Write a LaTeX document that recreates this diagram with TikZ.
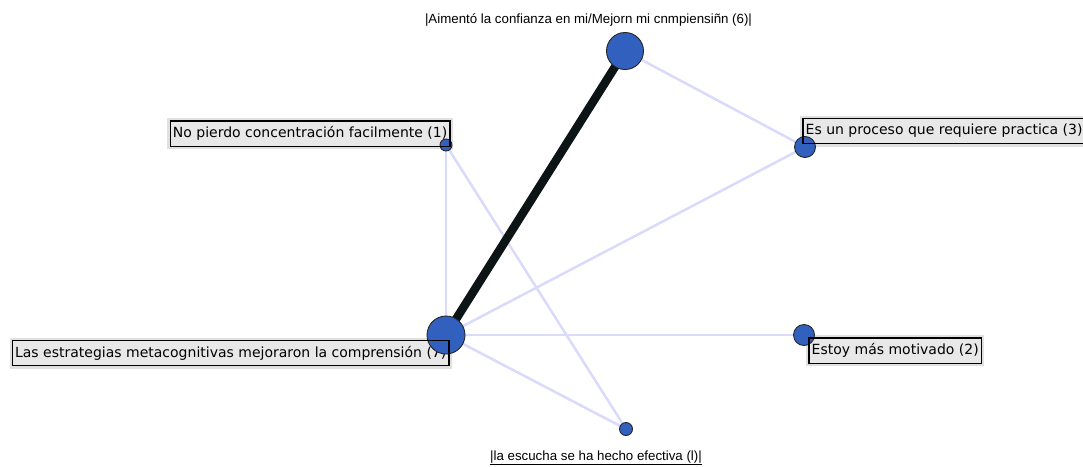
\documentclass[tikz,border=0pt]{standalone}
\usepackage{fontspec}
\setmainfont{DejaVu Sans}
\newfontfamily\arialf{Liberation Sans}
\pgfdeclarelayer{edges}
\pgfdeclarelayer{labels}
\pgfdeclarelayer{front}
\pgfsetlayers{edges,labels,main,front}
\definecolor{nodeblue}{RGB}{50,96,190}
\definecolor{edgelav}{RGB}{218,218,252}
\definecolor{boxfill}{RGB}{232,232,232}
\definecolor{halo}{RGB}{224,224,224}
\definecolor{strongcol}{RGB}{12,20,22}
\tikzset{
  vertex/.style={circle, fill=nodeblue, draw=black!85, line width=0.9pt, inner sep=0pt},
  weak/.style={draw=edgelav, line width=2.5pt},
  strong/.style={draw=strongcol, line width=8.5pt},
  tag/.style={fill=boxfill, font=\fontsize{14}{16}\selectfont, inner sep=2.5pt, minimum height=25pt, preaction={draw=halo, line width=6pt}},
  tagframe/.style={draw=black, line width=1.4pt},
  caption/.style={font=\arialf\fontsize{13.3}{15}\selectfont, inner sep=1pt}
}
\begin{document}
\begin{tikzpicture}[x=1pt,y=-1pt]
\useasboundingbox (0,0) rectangle (1083,466);
\begin{pgfonlayer}{edges}
\fill[white] (0,0) rectangle (1083,466);
\end{pgfonlayer}
% vertices
\node[vertex, minimum size=37pt] (A) at (625,51) {};
\node[vertex, minimum size=38pt] (L) at (446,335) {};
\node[vertex, minimum size=12pt] (P) at (446,145) {};
\node[vertex, minimum size=21pt] (E) at (805,147) {};
\node[vertex, minimum size=21pt] (M) at (804,335) {};
\node[vertex, minimum size=13pt] (Q) at (626,429) {};
% connectors
\begin{pgfonlayer}{edges}
\draw[weak] (A.center) -- (E.center);
\draw[weak] (L.center) -- (E.center);
\draw[weak] (L.center) -- (M.center);
\draw[weak] (L.center) -- (P.center);
\draw[weak] (L.center) -- (Q.center);
\draw[weak] (P.center) -- (Q.center);
\draw[strong] (L.center) -- (A.center);
\end{pgfonlayer}
% labels
\begin{pgfonlayer}{labels}
\node[tag, anchor=east] (tP) at (450,133.5) {No pierdo concentración facilmente (1)};
\node[tag, anchor=east] (tL) at (449,353) {Las estrategias metacognitivas mejoraron la comprensión (7)};
\node[tag, anchor=west] (tE) at (803,131) {Es un proceso que requiere practica (3)};
\node[tag, anchor=west] (tM) at (809,350.5) {Estoy más motivado (2)};
\end{pgfonlayer}
\begin{pgfonlayer}{front}
\draw[tagframe] (tP.south west) rectangle (tP.north east);
\draw[tagframe] (tL.south west) rectangle (tL.north east);
\draw[tagframe] (tE.south west) rectangle (tE.north east);
\draw[tagframe] (tM.south west) rectangle (tM.north east);
\end{pgfonlayer}
\node[caption] (cA) at (588.5,20) {|Aimentó la confianza en mi/Mejorn mi cnmpiensiñn (6)|};
\node[caption] (cQ) at (596,458) {\underline{|la escucha se ha hecho efectiva (l)|}};
\end{tikzpicture}
\end{document}
